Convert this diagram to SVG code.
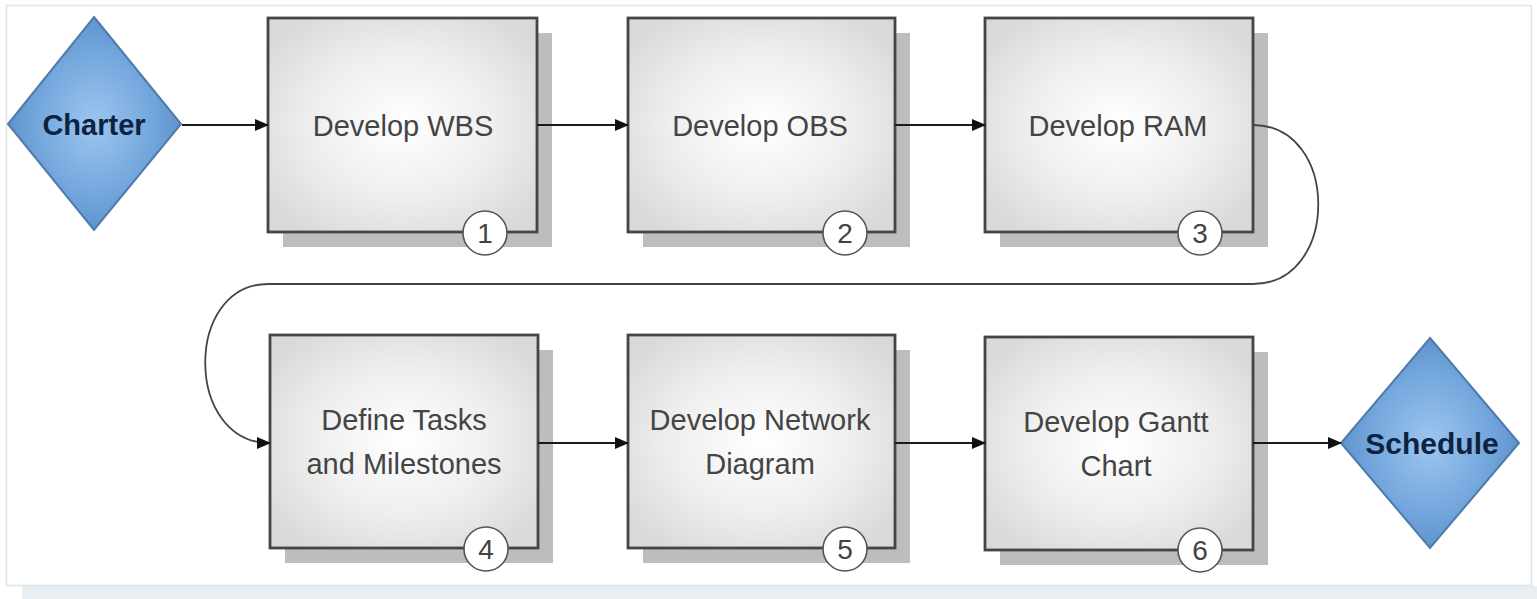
<svg xmlns="http://www.w3.org/2000/svg" width="1537" height="599" viewBox="0 0 1537 599">
<defs>
<radialGradient id="boxg" cx="50%" cy="50%" r="62%">
<stop offset="0" stop-color="#ffffff"/>
<stop offset="0.55" stop-color="#eeeeee"/>
<stop offset="1" stop-color="#d9d9d9"/>
</radialGradient>
<radialGradient id="diag" cx="50%" cy="50%" r="55%">
<stop offset="0" stop-color="#9cc6f0"/>
<stop offset="0.6" stop-color="#74a7dd"/>
<stop offset="1" stop-color="#5a8cc8"/>
</radialGradient>
<marker id="arr" markerWidth="14" markerHeight="12" refX="13" refY="6" orient="auto" markerUnits="userSpaceOnUse">
<path d="M0,0 L14,6 L0,12 Z" fill="#111"/>
</marker>
<style>
.box{fill:url(#boxg);stroke:#454545;stroke-width:2.8}
.shadow{fill:#bdbdbd}
.dia{fill:url(#diag);stroke:#4f7bab;stroke-width:2}
.lbl{font-family:"Liberation Sans",Arial,sans-serif;font-size:29px;fill:#444;text-anchor:middle}
.dlbl{font-family:"Liberation Sans",Arial,sans-serif;font-size:29px;font-weight:bold;fill:#0e2340;text-anchor:middle}
.num{fill:#ffffff;stroke:#555;stroke-width:1.6}
.ntx{font-family:"Liberation Sans",Arial,sans-serif;font-size:28px;fill:#444;text-anchor:middle}
.con{fill:none;stroke:#1a1a1a;stroke-width:2}
.curve{fill:none;stroke:#444;stroke-width:1.8}
</style>
</defs>
<rect x="0" y="0" width="1537" height="599" fill="#ffffff"/>
<rect x="22" y="586" width="1515" height="13" fill="#e9eef2"/>
<rect x="6.5" y="5.5" width="1525" height="580" fill="#ffffff" stroke="#dbe5ec" stroke-width="1.5"/>

<g id="charter">
<polygon class="dia" points="94,17 181,124 94,230 8,124"/>
<text class="dlbl" x="94" y="135">Charter</text>
</g>

<g id="task1">
<rect class="shadow" x="283" y="33" width="269" height="214"/>
<rect class="box" x="268" y="18" width="269" height="214"/>
<text class="lbl" x="403" y="136">Develop WBS</text>
<circle class="num" cx="485" cy="233" r="22"/>
<text class="ntx" x="485" y="243">1</text>
</g>

<g id="task2">
<rect class="shadow" x="643" y="33" width="267" height="214"/>
<rect class="box" x="628" y="18" width="267" height="214"/>
<text class="lbl" x="760" y="136">Develop OBS</text>
<circle class="num" cx="845" cy="233" r="22"/>
<text class="ntx" x="845" y="243">2</text>
</g>

<g id="task3">
<rect class="shadow" x="1000" y="33" width="268" height="214"/>
<rect class="box" x="985" y="18" width="268" height="214"/>
<text class="lbl" x="1118" y="136">Develop RAM</text>
<circle class="num" cx="1200" cy="233" r="22"/>
<text class="ntx" x="1200" y="243">3</text>
</g>

<g id="task4">
<rect class="shadow" x="285" y="350" width="268" height="213"/>
<rect class="box" x="270" y="335" width="268" height="213"/>
<text class="lbl" x="404" y="430">Define Tasks</text>
<text class="lbl" x="404" y="474">and Milestones</text>
<circle class="num" cx="486" cy="549" r="22"/>
<text class="ntx" x="486" y="559">4</text>
</g>

<g id="task5">
<rect class="shadow" x="643" y="350" width="267" height="213"/>
<rect class="box" x="628" y="335" width="267" height="213"/>
<text class="lbl" x="760" y="430">Develop Network</text>
<text class="lbl" x="760" y="474">Diagram</text>
<circle class="num" cx="845" cy="549" r="22"/>
<text class="ntx" x="845" y="559">5</text>
</g>

<g id="task6">
<rect class="shadow" x="1000" y="352" width="268" height="213"/>
<rect class="box" x="985" y="337" width="268" height="213"/>
<text class="lbl" x="1116" y="432">Develop Gantt</text>
<text class="lbl" x="1116" y="476">Chart</text>
<circle class="num" cx="1200" cy="550" r="22"/>
<text class="ntx" x="1200" y="560">6</text>
</g>

<g id="schedule">
<polygon class="dia" points="1430,338 1519,443 1430,548 1341,443"/>
<text class="dlbl" x="1432" y="454" style="font-size:30px">Schedule</text>
</g>

<g id="connectors">
<line class="con" x1="182" y1="125" x2="268" y2="125" marker-end="url(#arr)"/>
<line class="con" x1="537" y1="125" x2="628" y2="125" marker-end="url(#arr)"/>
<line class="con" x1="895" y1="125" x2="985" y2="125" marker-end="url(#arr)"/>
<path class="curve" d="M1253,125 C1340,125 1340,284 1253,284 L268,284 C184,284 184,443 270,443" marker-end="url(#arr)"/>
<line class="con" x1="538" y1="443" x2="628" y2="443" marker-end="url(#arr)"/>
<line class="con" x1="895" y1="443" x2="985" y2="443" marker-end="url(#arr)"/>
<line class="con" x1="1253" y1="443" x2="1341" y2="443" marker-end="url(#arr)"/>
</g>
</svg>
